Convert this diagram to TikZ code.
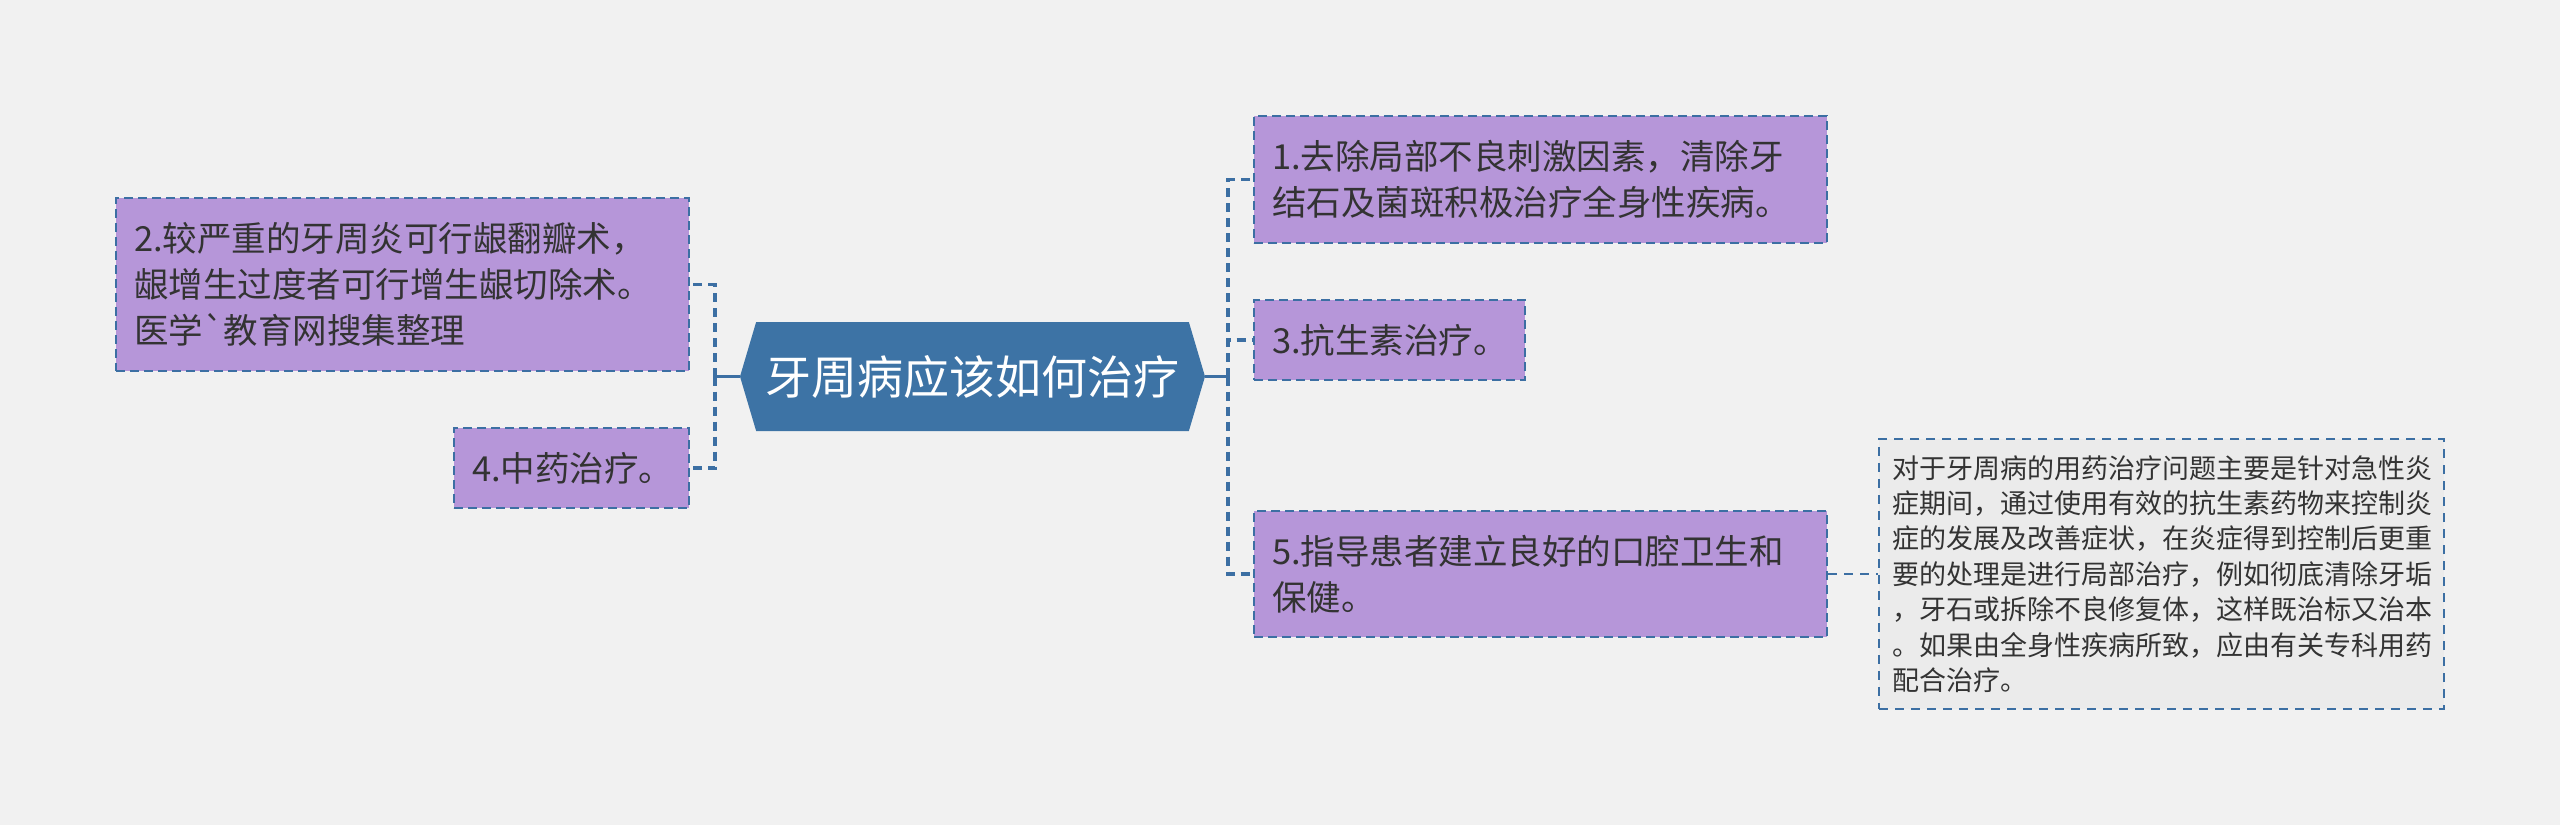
\documentclass[tikz,border=0pt]{standalone}
\usepackage{fontspec}
\setmainfont{Noto Sans CJK SC}
\usetikzlibrary{shapes.symbols}
\definecolor{bg}{HTML}{F1F1F1}
\definecolor{boxfill}{HTML}{B696D9}
\definecolor{edge}{HTML}{3C6FA3}
\definecolor{hexfill}{HTML}{3D73A5}
\definecolor{txt}{HTML}{333333}
\definecolor{notefill}{HTML}{EBEBEB}
\begin{document}
\begin{tikzpicture}[x=1pt,y=-1pt,
  topic/.style={draw=edge, fill=boxfill, line width=2.5pt, dash pattern=on 9pt off 5pt,
    inner xsep=18pt, inner ysep=0pt, align=left, text=txt,
    font=\fontsize{34.5}{46}\selectfont},
  notebox/.style={draw=edge, fill=notefill, line width=2pt, dash pattern=on 9pt off 7pt,
    inner xsep=13pt, inner ysep=0pt, align=left, text=txt,
    font=\fontsize{27}{35.4}\selectfont},
  hexnode/.style={shape=signal, signal to=west and east, signal pointer angle=147,
    fill=hexfill, draw=none, text=white, inner sep=0pt,
    minimum width=465pt, minimum height=109pt, font=\fontsize{46}{50}\selectfont},
  solidc/.style={draw=edge, line width=3pt},
  dashc/.style={draw=edge, line width=3.5pt, dash pattern=on 9pt off 6pt},
  notec/.style={draw=edge, line width=2pt, dash pattern=on 9pt off 7pt},
]
\useasboundingbox (0,0) rectangle (2560,825);
\fill[bg] (0,0) rectangle (2560,825);

\node[hexnode] (hex) at (972.5,376.5) {牙周病应该如何治疗};

\node[topic, text width=537pt, minimum height=173pt] (b2) at (402.5,284.5)
  {2.较严重的牙周炎可行龈翻瓣术，\\龈增生过度者可行增生龈切除术。\\医学{\addfontfeatures{Ligatures=TeXOff}`}教育网搜集整理};
\node[topic, text width=199pt, minimum height=80pt] (b4) at (571.5,468) {4.中药治疗。};

\node[topic, text width=537pt, minimum height=127pt] (b1) at (1540.5,179.5)
  {1.去除局部不良刺激因素，清除牙\\结石及菌斑积极治疗全身性疾病。};
\node[topic, text width=235pt, minimum height=80pt] (b3) at (1389.5,340) {3.抗生素治疗。};
\node[topic, text width=537pt, minimum height=126pt] (b5) at (1540.5,574)
  {5.指导患者建立良好的口腔卫生和\\保健。};

\node[notebox, text width=539pt, minimum height=270pt] (note) at (2161.5,574)
  {对于牙周病的用药治疗问题主要是针对急性炎\\症期间，通过使用有效的抗生素药物来控制炎\\症的发展及改善症状，在炎症得到控制后更重\\要的处理是进行局部治疗，例如彻底清除牙垢\\，牙石或拆除不良修复体，这样既治标又治本\\。如果由全身性疾病所致，应由有关专科用药\\配合治疗。};

\coordinate (jl) at (715,376.5);
\coordinate (jr) at (1228,376.5);
\draw[solidc] (hex.west) -- (jl);
\draw[solidc] (hex.east) -- (jr);
\draw[dashc] (jl) |- (b2.east);
\draw[dashc] (jl) |- (b4.east);
\draw[dashc] (jr) |- (b1.west);
\draw[dashc] (jr) |- (b3.west);
\draw[dashc] (jr) |- (b5.west);
\draw[notec] (b5.east) -- (note.west);
\end{tikzpicture}
\end{document}
